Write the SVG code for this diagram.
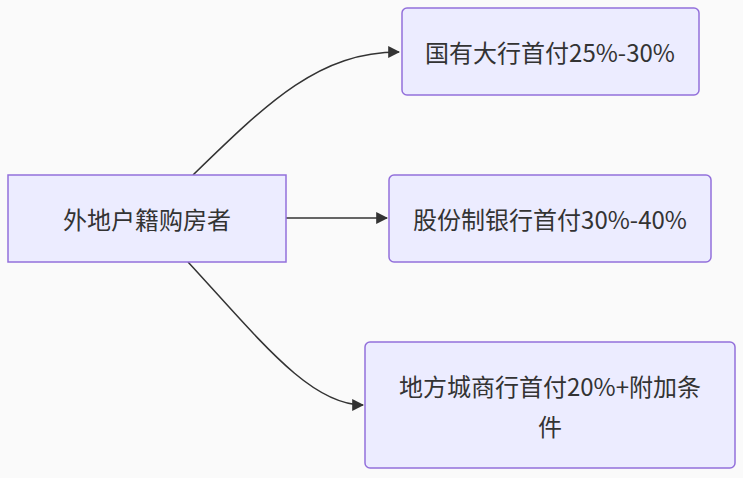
<svg xmlns="http://www.w3.org/2000/svg" width="743" height="478" viewBox="0 0 743 478">
<defs>
<style>
.node rect{fill:#ECECFF;stroke:#9370DB;stroke-width:1.5;}
.node text{font-family:"Noto Sans CJK SC","Noto Sans",sans-serif;font-size:24px;fill:#333;text-anchor:middle;dominant-baseline:central;}
.edge{fill:none;stroke:#333;stroke-width:1.5;}
</style>
<marker id="arr" viewBox="0 0 10 10" refX="9" refY="5" markerWidth="12" markerHeight="12" markerUnits="userSpaceOnUse" orient="auto">
<path d="M0,0 L10,5 L0,10 z" fill="#333"/>
</marker>
</defs>
<rect width="743" height="478" fill="#fafafa"/>
<g id="connectors">
<path class="edge" d="M193,175 C270,100 320,52 399,52" marker-end="url(#arr)"/>
<path class="edge" d="M286,218 L387,218" marker-end="url(#arr)"/>
<path class="edge" d="M188,262 C260,340 310,405 363,405" marker-end="url(#arr)"/>
</g>
<g id="n0" class="node"><rect x="8" y="175" width="278" height="87"/><text x="147" y="218">外地户籍购房者</text></g>
<g id="n1" class="node"><rect x="402" y="8" width="297" height="87" rx="5"/><text x="550" y="51">国有大行首付25%-30%</text></g>
<g id="n2" class="node"><rect x="389" y="175" width="322" height="87" rx="5"/><text x="550" y="218">股份制银行首付30%-40%</text></g>
<g id="n3" class="node"><rect x="365" y="342" width="370" height="126" rx="5"/><text x="550" y="385">地方城商行首付20%+附加条</text><text x="550" y="425">件</text></g>
</svg>
